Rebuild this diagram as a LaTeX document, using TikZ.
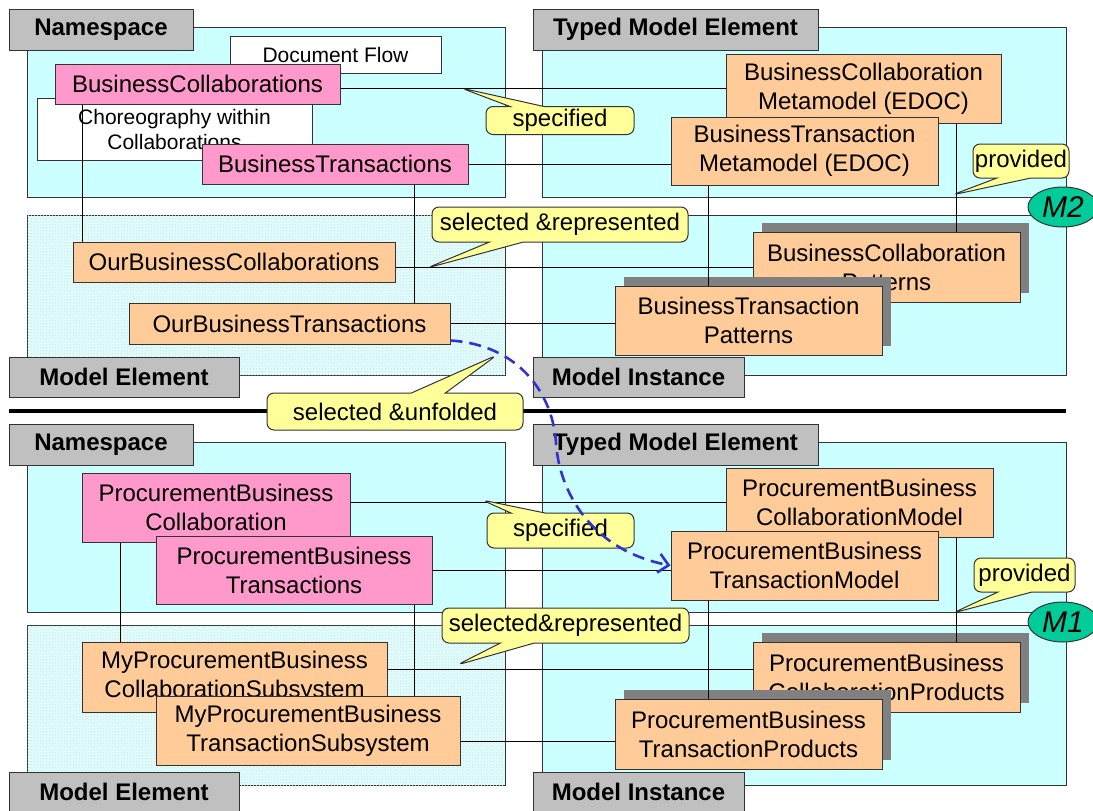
\documentclass[tikz,border=0pt]{standalone}
\usepackage{fontspec}
\setmainfont{Liberation Sans}
\usetikzlibrary{shapes.geometric}
\usetikzlibrary{shapes.callouts}
\usetikzlibrary{shadows}
\usetikzlibrary{patterns}
\usetikzlibrary{arrows.meta}

\definecolor{panelcyan}{HTML}{CCFFFF}
\definecolor{hatchcyan}{HTML}{E6FCFC}
\definecolor{dotcyan}{HTML}{B4EAEA}
\definecolor{taggray}{HTML}{C0C0C0}
\definecolor{nspink}{HTML}{FF99CC}
\definecolor{elemorange}{HTML}{FFCC99}
\definecolor{noteyellow}{HTML}{FFFF99}
\definecolor{shadowgray}{HTML}{808080}
\definecolor{levelgreen}{HTML}{00CC99}
\definecolor{flowblue}{HTML}{3333CC}
\definecolor{edgegray}{HTML}{333333}

\tikzset{
  box/.style = {draw=edgegray, line width=1pt, inner sep=0pt, align=center,
    font=\fontsize{24}{29}\selectfont},
  tag_n/.style = {box, fill=taggray, font=\fontsize{24}{29}\selectfont\bfseries},% grey heading
  plain_n/.style = {box, fill=white, font=\fontsize{21}{25}\selectfont},
  ns_n/.style = {box, fill=nspink},% namespace element
  elem_n/.style = {box, fill=elemorange},% model element
  inst_n/.style = {elem_n, drop shadow={shadow xshift=9pt, shadow yshift=9pt,
    opacity=1, fill=shadowgray}},% model instance
  note_n/.style = {box, rectangle callout, rounded corners=7pt, fill=noteyellow,
    callout pointer width=34pt},
  level_n/.style = {box, ellipse, fill=levelgreen,
    font=\fontsize{30}{34}\selectfont\itshape},
  panel/.style = {draw=edgegray, line width=1pt, fill=panelcyan},
  hatched/.style = {draw=edgegray, line width=1pt, fill=hatchcyan,
    postaction={pattern=crosshatch dots, pattern color=dotcyan}},
  link/.style = {draw=black, line width=0.8pt},
  flow/.style = {draw=flowblue, line width=2.6pt, dash pattern=on 12pt off 7pt,
    -{Straight Barb[length=10pt,width=19pt]}},
}

\begin{document}
\begin{tikzpicture}[x=1pt,y=-1pt]
\useasboundingbox (0,0) rectangle (1093,811);

% panels, level M2
\draw[panel] (27,27) rectangle (505,197);
\draw[panel] (542,27) rectangle (1066,197);
\draw[hatched] (27,215) rectangle (505,375);
\draw[panel] (542,215) rectangle (1066,375);
% panels, level M1
\draw[panel] (27,442) rectangle (505,612);
\draw[panel] (542,442) rectangle (1066,612);
\draw[hatched] (27,625) rectangle (505,785);
\draw[panel] (542,625) rectangle (1066,785);

\draw[line width=4pt] (9,411) -- (1066,411);

\coordinate (colA) at (82,0);
\coordinate (colB) at (414,0);
\coordinate (colC) at (708,0);
\coordinate (colD) at (956,0);
\coordinate (colE) at (120,0);

% headings
\node[tag_n, minimum width=184pt, minimum height=41pt] (nsA) at (101,29.5) {Namespace};
\node[tag_n, minimum width=285pt, minimum height=41pt] (tmeA) at (675.5,29.5) {Typed Model Element};
\node[tag_n, minimum width=230pt, minimum height=40pt] (meA) at (124,377) {Model Element};
\node[tag_n, minimum width=211pt, minimum height=40pt] (miA) at (638.5,377) {Model Instance};
\node[tag_n, minimum width=184pt, minimum height=41pt] (nsB) at (101,444.5) {Namespace};
\node[tag_n, minimum width=285pt, minimum height=41pt] (tmeB) at (675.5,444.5) {Typed Model Element};
\node[tag_n, minimum width=230pt, minimum height=40pt] (meB) at (124,792) {Model Element};
\node[tag_n, minimum width=211pt, minimum height=40pt] (miB) at (638.5,792) {Model Instance};

% level M2
\node[plain_n, minimum width=211pt, minimum height=37pt] (docflow) at (335.5,54.5) {Document Flow};
\node[plain_n, minimum width=275pt, minimum height=62pt] (choreo) at (174.5,129) {Choreography within\\Collaborations};
\node[ns_n, minimum width=285pt, minimum height=40pt] (bcoll) at (197.5,84) {BusinessCollaborations};
\node[ns_n, minimum width=266pt, minimum height=40pt] (btrans) at (335,164) {BusinessTransactions};
\node[elem_n, minimum width=275pt, minimum height=69pt] (bcmeta) at (863.5,88.5) {BusinessCollaboration\\Metamodel (EDOC)};
\node[elem_n, minimum width=267pt, minimum height=68pt] (btmeta) at (804.5,151) {BusinessTransaction\\Metamodel (EDOC)};
\node[elem_n, minimum width=322pt, minimum height=40pt] (ourbc) at (234,262) {OurBusinessCollaborations};
\node[elem_n, minimum width=321pt, minimum height=41pt] (ourbt) at (289.5,323.5) {OurBusinessTransactions};
\node[inst_n, minimum width=267pt, minimum height=70pt] (bcpat) at (886.5,267) {BusinessCollaboration\\Patterns};
\node[inst_n, minimum width=267pt, minimum height=69pt] (btpat) at (748.5,320.5) {BusinessTransaction\\Patterns};

% level M1
\node[ns_n, minimum width=268pt, minimum height=69pt] (pbcoll) at (216,507.5) {ProcurementBusiness\\Collaboration};
\node[ns_n, minimum width=276pt, minimum height=68pt] (pbtrans) at (294,570) {ProcurementBusiness\\Transactions};
\node[elem_n, minimum width=267pt, minimum height=69pt] (pbcmodel) at (859.5,502.5) {ProcurementBusiness\\CollaborationModel};
\node[elem_n, minimum width=267pt, minimum height=69pt] (pbtmodel) at (804.5,565.5) {ProcurementBusiness\\TransactionModel};
\node[elem_n, minimum width=305pt, minimum height=70pt] (mypbcs) at (234.5,677) {MyProcurementBusiness\\CollaborationSubsystem};
\node[elem_n, minimum width=304pt, minimum height=69pt] (mypbts) at (308,730.5) {MyProcurementBusiness\\TransactionSubsystem};
\node[inst_n, minimum width=267pt, minimum height=70pt] (pbcprod) at (886.5,677) {ProcurementBusiness\\CollaborationProducts};
\node[inst_n, minimum width=267pt, minimum height=70pt] (pbtprod) at (748.5,734) {ProcurementBusiness\\TransactionProducts};

% connectors M2
\draw[link] (bcoll.east |- bcmeta.west) -- (bcmeta.west);
\draw[link] (btrans.east) -- (btrans.east -| btmeta.west);
\draw[link] (bcoll.south -| colA) -- (ourbc.north -| colA);
\draw[link] (btrans.south -| colB) -- (ourbt.north -| colB);
\draw[link] (bcmeta.south -| colD) -- (bcpat.north -| colD);
\draw[link] (btmeta.south -| colC) -- (btpat.north -| colC);
\draw[link] (ourbc.east |- bcpat.west) -- (bcpat.west);
\draw[link] (ourbt.east) -- (ourbt.east -| btpat.west);
% connectors M1
\draw[link] (pbcoll.east |- pbcmodel.west) -- (pbcmodel.west);
\draw[link] (pbtrans.east) -- (pbtrans.east -| pbtmodel.west);
\draw[link] (pbcoll.south -| colE) -- (mypbcs.north -| colE);
\draw[link] (pbtrans.south -| colB) -- (mypbts.north -| colB);
\draw[link] (pbcmodel.south -| colD) -- (pbcprod.north -| colD);
\draw[link] (pbtmodel.south -| colC) -- (pbtprod.north -| colC);
\draw[link] ([yshift=8pt]mypbcs.east) -- ([yshift=8pt]pbcprod.west);
\draw[link] ([yshift=-7pt]pbtprod.west) -- ([yshift=-7pt]pbtprod.west -| mypbts.east);

% callouts
\node[note_n, minimum width=148pt, minimum height=28pt,
  callout absolute pointer={(461,88)}] (specA) at (560,120.5) {specified};
\node[note_n, minimum width=256pt, minimum height=35pt,
  callout absolute pointer={(427,268)}] (selA) at (560,224.5) {selected \&represented};
\node[note_n, minimum width=96pt, minimum height=34pt,
  callout absolute pointer={(952,195)}] (provA) at (1021,161) {provided};
\node[note_n, minimum width=256pt, minimum height=37pt,
  callout absolute pointer={(497,355)}] (unfold) at (395,411.5) {selected \&unfolded};
\node[note_n, minimum width=147pt, minimum height=35pt,
  callout absolute pointer={(482,500)}] (specB) at (560.5,530.5) {specified};
\node[note_n, minimum width=247pt, minimum height=35pt,
  callout absolute pointer={(457,665)}] (selB) at (565.5,625.5) {selected\&represented};
\node[note_n, minimum width=101pt, minimum height=34pt,
  callout absolute pointer={(953,613)}] (provB) at (1024.5,575) {provided};

% levels
\node[level_n, minimum width=70pt, minimum height=40pt] (lvA) at (1063,207) {M2};
\node[level_n, minimum width=70pt, minimum height=40pt] (lvB) at (1063,622) {M1};

\draw[flow] ([yshift=4pt]ourbt.south east) .. controls (520,345) and (553,395) .. (556,443)
  .. controls (559,490) and (590,550) .. (pbtmodel.west);
\end{tikzpicture}
\end{document}
